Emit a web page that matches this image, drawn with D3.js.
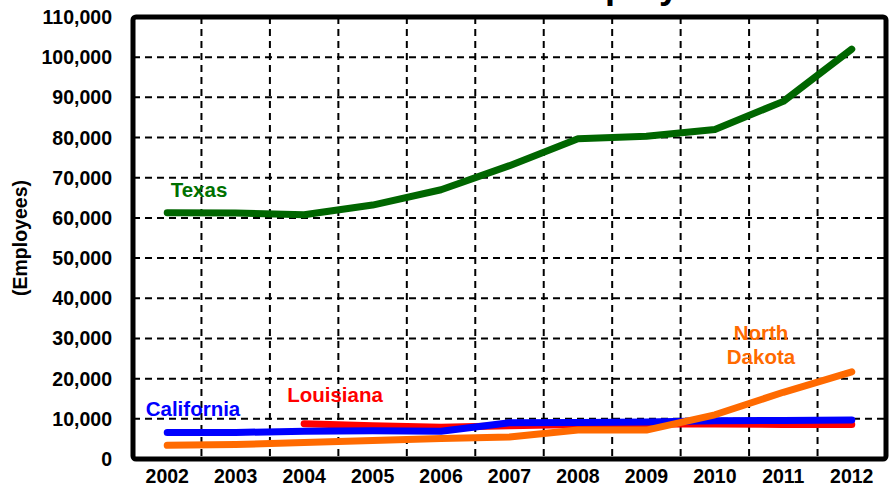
<!DOCTYPE html>
<meta charset="utf-8">
<html>
<head>
<script src="https://cdn.jsdelivr.net/npm/d3@7"></script>
<style>
  body { margin: 0; background: #fff; }
  text { font-family: "Liberation Sans", Arial, sans-serif; font-weight: bold; }
</style>
</head>
<body>
<script>
// data
var years = ["2002","2003","2004","2005","2006","2007","2008","2009","2010","2011","2012"];
var texas      = [61300, 61200, 60800, 63200, 67000, 73000, 79700, 80300, 82000, 89000, 102000];
var louisiana  = [null, null, 8800, 8300, 7900, 8300, 8600, 8700, 8700, 8600, 8600];
var california = [6600, 6600, 6900, 7000, 6900, 9000, 9100, 9200, 9500, 9600, 9700];
var northDakota= [3400, 3600, 4100, 4600, 5100, 5500, 7200, 7200, 11000, 16600, 21700];
var yTicks = d3.range(0, 110001, 10000);

var width = 894, height = 491;
var margin = {top: 17, right: 8, bottom: 32, left: 133};

var svg = d3.select("body").append("svg")
  .attr("width", width)
  .attr("height", height);

var x = d3.scaleBand()
  .domain(years)
  .range([margin.left, width - margin.right]);

var y = d3.scaleLinear()
  .domain([0, 110000])
  .range([height - margin.bottom, margin.top]);

var xc = function(d) { return x(d) + x.bandwidth() / 2; };

// title (mostly clipped at the top edge)
svg.append("text")
  .attr("x", 510).attr("y", -2.5)
  .attr("text-anchor", "middle")
  .attr("font-size", 36)
  .text("Oil & Gas Sector Employment");

// grid
var grid = svg.append("g")
  .attr("stroke", "#000")
  .attr("stroke-width", 2)
  .attr("stroke-dasharray", "7,5");

grid.selectAll(".hgrid")
  .data(yTicks.slice(1, -1))
  .enter().append("line")
  .attr("x1", margin.left).attr("x2", width - margin.right)
  .attr("y1", function(d) { return y(d); })
  .attr("y2", function(d) { return y(d); });

grid.selectAll(".vgrid")
  .data(years.slice(1))
  .enter().append("line")
  .attr("x1", function(d) { return x(d); })
  .attr("x2", function(d) { return x(d); })
  .attr("y1", margin.top).attr("y2", height - margin.bottom);

// axes labels
svg.append("g").selectAll("text")
  .data(yTicks)
  .enter().append("text")
  .attr("x", 112)
  .attr("y", function(d) { return y(d); })
  .attr("dy", "0.36em")
  .attr("text-anchor", "end")
  .attr("font-size", 19.5)
  .text(d3.format(","));

svg.append("g").selectAll("text")
  .data(years)
  .enter().append("text")
  .attr("x", xc)
  .attr("y", 483)
  .attr("text-anchor", "middle")
  .attr("font-size", 19.5)
  .text(function(d) { return d; });

svg.append("text")
  .attr("transform", "translate(27," + y(55000) + ") rotate(-90)")
  .attr("text-anchor", "middle")
  .attr("font-size", 19.5)
  .text("(Employees)");

// lines
var line = d3.line()
  .defined(function(d) { return d != null; })
  .x(function(d, i) { return xc(years[i]); })
  .y(function(d) { return y(d); });

var series = [
  {values: texas, color: "#006600"},
  {values: louisiana, color: "#ff0000"},
  {values: california, color: "#0000ff"},
  {values: northDakota, color: "#ff6a00"}
];

svg.append("g").selectAll("path")
  .data(series)
  .enter().append("path")
  .attr("fill", "none")
  .attr("stroke", function(d) { return d.color; })
  .attr("stroke-width", 7)
  .attr("stroke-linecap", "round")
  .attr("stroke-linejoin", "round")
  .attr("d", function(d) { return line(d.values); });

// frame
svg.append("rect")
  .attr("x", margin.left).attr("y", margin.top)
  .attr("width", width - margin.right - margin.left)
  .attr("height", height - margin.bottom - margin.top)
  .attr("rx", 3)
  .attr("fill", "none")
  .attr("stroke", "#000")
  .attr("stroke-width", 5);

// series labels
var labels = [
  {text: ["Texas"], x: 199, y: 197, color: "#007000"},
  {text: ["California"], x: 193, y: 416, color: "#0000ff"},
  {text: ["Louisiana"], x: 335, y: 402, color: "#ff0000"},
  {text: ["North", "Dakota"], x: 761, y: 340, color: "#ff6a00"}
];

labels.forEach(function(l) {
  var t = svg.append("text")
    .attr("x", l.x).attr("y", l.y)
    .attr("text-anchor", "middle")
    .attr("font-size", 20.5)
    .attr("fill", l.color);
  l.text.forEach(function(s, i) {
    t.append("tspan").attr("x", l.x).attr("dy", i ? 24 : 0).text(s);
  });
});
</script>
</body>
</html>
